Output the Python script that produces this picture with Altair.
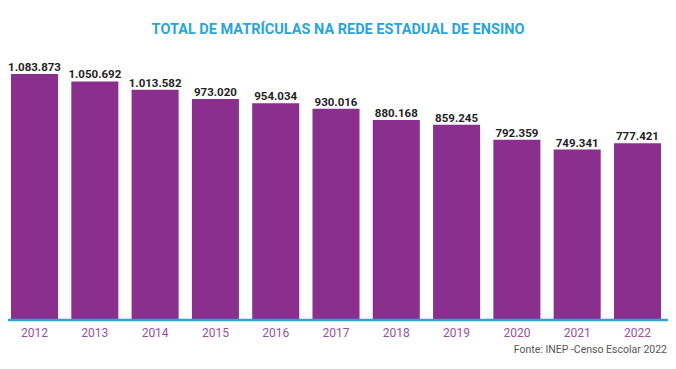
import altair as alt
import pandas as pd

years = ["2012", "2013", "2014", "2015", "2016", "2017", "2018", "2019", "2020", "2021", "2022"]
values = [1083873, 1050692, 1013582, 973020, 954034, 930016, 880168, 859245, 792359, 749341, 777421]
labels = [f"{v:,}".replace(",", ".") for v in values]

title_text = "TOTAL DE MATRÍCULAS NA REDE ESTADUAL DE ENSINO"
source_text = "Fonte: INEP -Censo Escolar 2022"

df = pd.DataFrame({"ano": years, "valor": values, "rotulo": labels})

W, H = 656, 251
PURPLE = "#8A2F8E"
BLUE = "#2AA5DA"

x = alt.X("ano:N", sort=years,
          scale=alt.Scale(paddingInner=0.22, paddingOuter=0.05, round=False),
          axis=alt.Axis(title=None, domain=False, ticks=False, labelAngle=0,
                        labelPadding=8, labelFontSize=12, labelColor="#9A4F9C",
                        labelFont="Roboto", labelFontWeight="normal"))
y = alt.Y("valor:Q", scale=alt.Scale(domain=[0, 1110000], nice=False),
          axis=None)

base = alt.Chart(df)

bars = base.mark_bar(color=PURPLE).encode(x=x, y=y)

text = base.mark_text(baseline="bottom", dy=-1, font="Roboto", fontWeight="bold",
                      fontSize=11.5, color="#1f1f1f").encode(x=x, y=y, text="rotulo:N")

line = alt.Chart(pd.DataFrame({"a": [0]})).mark_rule(color=BLUE, strokeWidth=2.5).encode(
    x=alt.value(-8), x2=alt.value(W + 10), y=alt.value(H + 1))

title = alt.Chart(pd.DataFrame({"t": [title_text]})).mark_text(
    font="Roboto", fontWeight="bold", fontSize=14.5, color=BLUE, align="center",
    baseline="middle").encode(x=alt.value(330), y=alt.value(-38), text="t:N")

source = alt.Chart(pd.DataFrame({"s": [source_text]})).mark_text(
    font="Roboto", fontSize=10.5, color="#555555", align="right",
    baseline="middle").encode(x=alt.value(659), y=alt.value(282), text="s:N")

chart = alt.layer(bars, text, line, title, source).properties(
    width=W, height=H,
    autosize=alt.AutoSizeParams(type="none"),
    padding={"left": 0, "top": 60, "right": 4, "bottom": 37},
).configure_view(stroke=None)

chart.save("out.html", embed_options={"renderer": "svg", "actions": False})
